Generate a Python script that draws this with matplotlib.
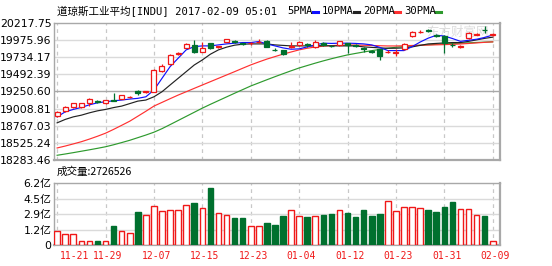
import matplotlib
matplotlib.use("Agg")
import matplotlib.pyplot as plt

# ---- data (DJIA daily, Nov 2016 - Feb 2017) ----
TITLE = "道琼斯工业平均[INDU] 2017-02-09 05:01"
VOL_TITLE = "成交量:2726526"
XLABELS = ["11-21", "11-29", "12-07", "12-15", "12-23", "01-04", "01-12", "01-23", "01-31", "02-09"]
XLABEL_POS = [0, 6, 12, 18, 24, 30, 36, 42, 48, 54]
PRICE_TICKS = [18283.46, 18525.24, 18767.03, 19008.81, 19250.60, 19492.39, 19734.17, 19975.96, 20217.75]
VOL_TICKS = [0, 1.55, 3.1, 4.65, 6.2]
VOL_TICK_LABELS = ["0", "1.2亿", "2.9亿", "4.5亿", "6.2亿"]

OPEN = [18905, 18976, 19024, 19024, 19089, 19120, 19080, 19135, 19146, 19165,
        19259, 19240, 19245, 19542, 19636, 19780, 19863, 19905, 19811, 19929,
        19875, 19948, 19962, 19925, 19925, 19940, 19966, 19840, 19834, 19880,
        19901, 19912, 19881, 19930, 19895, 19901, 19925, 19910, 19855, 19820,
        19844, 19800, 19790, 19844, 20033, 20085, 20110, 20040, 20033, 19910,
        19875, 20000, 20045, 20120, 20050]
CLOSE = [18962, 19024, 19081, 19081, 19141, 19105, 19127, 19120, 19194, 19174,
         19222, 19250, 19551, 19608, 19760, 19796, 19915, 19802, 19858, 19858,
         19885, 19986, 19950, 19915, 19933, 19948, 19881, 19834, 19778, 19890,
         19948, 19900, 19952, 19905, 19883, 19957, 19910, 19895, 19845, 19810,
         19750, 19810, 19800, 19920, 20093, 20093, 20100, 20033, 19938, 19900,
         19885, 20070, 20055, 20110, 20060]
HIGH = [18975, 19040, 19090, 19090, 19150, 19130, 19135, 19230, 19200, 19190,
        19275, 19260, 19560, 19630, 19770, 19805, 19935, 19976, 19950, 19935,
        19895, 19990, 19975, 19935, 19945, 19985, 19975, 19860, 19840, 19945,
        19960, 19935, 19980, 19940, 19910, 19965, 19935, 19920, 19880, 19830,
        19850, 19830, 19845, 19930, 20100, 20110, 20125, 20060, 20040, 19925,
        19900, 20080, 20075, 20170, 20070]
LOW = [18895, 18965, 19015, 19015, 19040, 19090, 19075, 19110, 19140, 19150,
       19205, 19225, 19240, 19530, 19620, 19760, 19855, 19790, 19800, 19850,
       19860, 19940, 19935, 19900, 19910, 19935, 19870, 19820, 19760, 19860,
       19895, 19880, 19860, 19895, 19870, 19895, 19790, 19880, 19800, 19790,
       19693, 19790, 19750, 19840, 20020, 20070, 20085, 20020, 19790, 19880,
       19860, 19995, 20040, 20075, 20030]

MA5 = [18891, 18962, 18996, 19024, 19061, 19089, 19104, 19118, 19128, 19142,
       19152, 19174, 19269, 19434, 19598, 19717, 19835, 19881, 19891, 19891,
       19905, 19919, 19929, 19938, 19938, 19952, 19919, 19891, 19863, 19844,
       19849, 19877, 19905, 19929, 19926, 19929, 19929, 19926, 19919, 19905,
       19870, 19825, 19825, 19825, 19880, 19945, 20000, 20040, 20030, 19995,
       19955, 19970, 19985, 20010, 20045]
MA10 = [18807, 18855, 18891, 18915, 18948, 18976, 18996, 19022, 19043, 19078,
        19113, 19128, 19174, 19245, 19340, 19434, 19528, 19622, 19693, 19774,
        19835, 19873, 19901, 19915, 19919, 19919, 19919, 19905, 19898, 19891,
        19891, 19891, 19891, 19895, 19891, 19891, 19891, 19891, 19877, 19870,
        19863, 19858, 19858, 19863, 19877, 19898, 19919, 19926, 19933, 19938,
        19938, 19955, 19976, 19997, 20014]
MA20 = [18453, 18480, 18510, 18541, 18578, 18618, 18661, 18715, 18772, 18830,
        18900, 18970, 19043, 19095, 19147, 19198, 19245, 19293, 19340, 19387,
        19434, 19481, 19528, 19576, 19623, 19665, 19705, 19740, 19775, 19805,
        19835, 19858, 19875, 19887, 19895, 19900, 19903, 19903, 19900, 19897,
        19893, 19890, 19890, 19893, 19897, 19900, 19903, 19906, 19909, 19913,
        19918, 19925, 19933, 19941, 19948]
MA30 = [18350, 18368, 18387, 18407, 18427, 18448, 18470, 18498, 18529, 18561,
        18598, 18635, 18675, 18725, 18782, 18840, 18898, 18956, 19014, 19068,
        19120, 19172, 19224, 19275, 19326, 19370, 19414, 19457, 19499, 19540,
        19580, 19614, 19648, 19680, 19710, 19738, 19764, 19785, 19805, 19824,
        19841, 19858, 19872, 19882, 19892, 19900, 19907, 19913, 19919, 19924,
        19929, 19934, 19939, 19944, 19948]

VOLUME = [1.43, 1.13, 1.13, 0.47, 0.47, 0.47, 0.47, 1.93, 1.43, 1.23,
          3.37, 3.03, 3.9, 3.43, 3.53, 3.53, 4.0, 4.2, 3.73, 5.7,
          3.27, 3.03, 2.77, 2.77, 1.93, 1.93, 2.2, 2.03, 2.97, 3.53,
          2.97, 2.87, 2.97, 3.07, 3.17, 3.53, 3.27, 2.87, 3.53, 2.97,
          3.17, 4.4, 3.47, 3.8, 3.8, 3.7, 3.53, 3.37, 3.83, 4.3,
          3.6, 3.6, 3.03, 2.97, 0.47]

UP = "#f01818"
DOWN = "#00702e"
MA_COLORS = {"5PMA": "#1010ff", "10PMA": "#222222", "20PMA": "#ff3030", "30PMA": "#2e9a2e"}

W, H = 552, 266
fig = plt.figure(figsize=(W / 100, H / 100), dpi=100)


def px_axes(left, top, right, bottom):
    return fig.add_axes([left / W, 1 - bottom / H, (right - left) / W, (bottom - top) / H])


axP = px_axes(53.5, 22.7, 500, 160)
axV = px_axes(53.5, 183.3, 500, 245.3)
n = len(CLOSE)
xs = list(range(n))
XLIM = (-0.45, 54.9)

for ax in (axP, axV):
    ax.set_xlim(*XLIM)
    for s in ax.spines.values():
        s.set_color("#a8a8a8")
        s.set_linewidth(1.0)
    ax.spines["right"].set_linewidth(1.6)
    ax.spines["bottom"].set_linewidth(1.6)
    for gx in XLABEL_POS:
        ax.axvline(gx, color="#c8c8c8", lw=0.9, ls=(0, (3, 3)), zorder=0)
    ax.tick_params(length=0, labelsize=7.8, pad=1.5)

# ---- price panel ----
axP.set_ylim(PRICE_TICKS[0], PRICE_TICKS[-1])
axP.set_yticks(PRICE_TICKS)
axP.set_yticklabels([f"{t:.2f}" for t in PRICE_TICKS])
axP.set_xticks([])
for i, t in enumerate(PRICE_TICKS[1:-1], start=1):
    axP.axhline(t, color="#a8a8a8" if i == 4 else "#dadada", lw=1.0, zorder=0)

axP.text(0.905, 0.93, "东方财富网", transform=axP.transAxes, ha="center", va="center",
         fontsize=9, color="#dcdcdc", family=["Noto Sans CJK SC", "DejaVu Sans"], zorder=0.5)

for name, ma in zip(MA_COLORS, (MA30, MA20, MA10, MA5)[::-1]):
    pass
for name, ma in (("30PMA", MA30), ("20PMA", MA20), ("10PMA", MA10), ("5PMA", MA5)):
    axP.plot(xs, ma, color=MA_COLORS[name], lw=0.85, zorder=2)

for i in xs:
    o, c, h, l = OPEN[i], CLOSE[i], HIGH[i], LOW[i]
    up = c >= o
    col = UP if up else DOWN
    axP.vlines(i, l, h, color=col, lw=0.9, zorder=3)
    body = max(abs(c - o), 2)
    axP.bar(i, body, bottom=min(o, c), width=0.62, facecolor="white" if up else col,
            edgecolor=col, linewidth=0.9, zorder=4)

# ---- volume panel ----
axV.set_ylim(0, 6.2)
axV.set_yticks(VOL_TICKS)
axV.set_yticklabels(VOL_TICK_LABELS, family=["DejaVu Sans", "Noto Sans CJK SC"])
for t in VOL_TICKS[1:-1]:
    axV.axhline(t, color="#dadada", lw=1.0, zorder=0)
for i in xs:
    up = CLOSE[i] >= OPEN[i]
    col = UP if up else DOWN
    axV.bar(i, VOLUME[i], width=0.7, facecolor="white" if up else col, edgecolor=col,
            linewidth=1.0, zorder=3)
axV.set_xticks([p + 0.3 for p in XLABEL_POS])
axV.set_xticklabels(XLABELS, color=UP, fontsize=7, family="DejaVu Sans Mono")
axV.get_xticklabels()[0].set_horizontalalignment("left")
axV.tick_params(axis="x", pad=4)

# ---- header texts ----
mono_cjk = ["DejaVu Sans Mono", "Noto Sans CJK SC"]
fig.text(57 / W, 1 - 11.5 / H, TITLE, ha="left", va="center", fontsize=7.6, family=mono_cjk)
fig.text(57 / W, 1 - 172 / H, VOL_TITLE, ha="left", va="center", fontsize=7.6,
         family=["Noto Sans CJK SC", "DejaVu Sans"])
lx = 287
for name, col in MA_COLORS.items():
    t = fig.text(lx / W, 1 - 11.5 / H, name, ha="left", va="center", fontsize=7.6,
                 family="DejaVu Sans Mono")
    w = len(name) * 6.2
    fig.add_artist(plt.Line2D([(lx + w + 1) / W, (lx + w + 6) / W], [1 - 12 / H, 1 - 12 / H],
                              color=col, lw=2.2))
    lx += w + 10

fig.savefig("out.png", dpi=100)
